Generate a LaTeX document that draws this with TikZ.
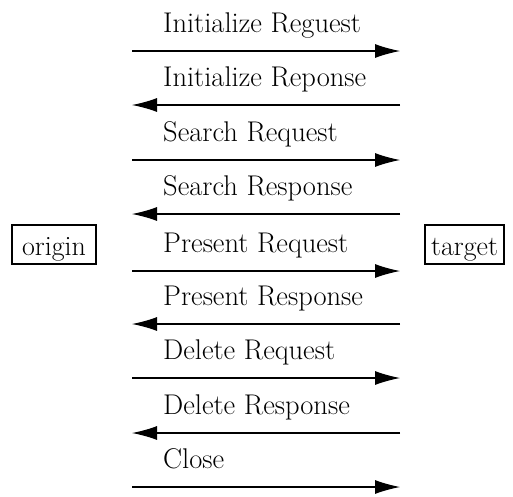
\documentclass[tikz,border=0pt]{standalone}
\usepackage{fontspec}
\usetikzlibrary{arrows.meta}
\begin{document}
\begin{tikzpicture}[x=1pt,y=1pt,
  msg/.style={line width=1.1pt,-{Latex[length=25pt,width=14pt]}},
  lbl/.style={anchor=base west,inner sep=0pt,font=\fontsize{28.5}{33}\selectfont},
  party/.style={draw,line width=1.1pt,inner xsep=0pt,inner ysep=0pt,text height=30pt,text depth=9pt,anchor=base,font=\fontsize{28}{33}\selectfont}
]
\useasboundingbox (0,0) rectangle (513,-496);
\node[party,minimum width=84pt] (origin) at (54,-255) {origin};
\node[party,minimum width=79pt] (target) at (464.5,-255) {target};
\foreach \i/\y/\t/\d in {1/51/Initialize Reguest/r, 2/105/Initialize Reponse/l, 3/160/Search Request/r, 4/214/Search Response/l, 5/271/Present Request/r, 6/324/Present Response/l, 7/378/Delete Request/r, 8/433/Delete Response/l, 9/487/Close/r}{
  \coordinate (L\i) at (132,-\y);
  \coordinate (R\i) at (400,-\y);
  \node[lbl] (t\i) at (163,-\y+19) {\t};
  \if\d r \draw[msg] (L\i) -- (R\i); \else \draw[msg] (R\i) -- (L\i); \fi
}
\end{tikzpicture}
\end{document}
